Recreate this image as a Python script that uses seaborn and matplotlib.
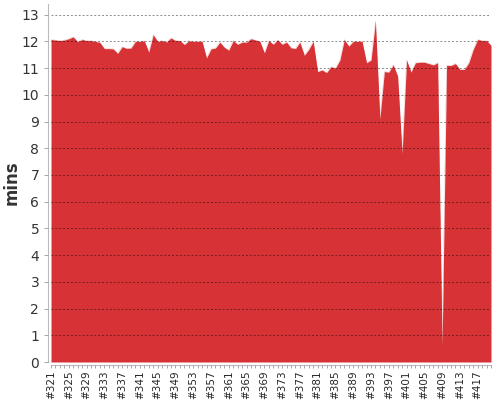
import seaborn as sns
import pandas as pd
import matplotlib.pyplot as plt
from matplotlib.ticker import MultipleLocator

# build numbers #321 .. #420
builds = ['#' + str(n) for n in range(321, 421)]
mins = [
    12.07, 12.05, 12.03, 12.05, 12.10, 12.17, 11.99, 12.07, 12.03, 12.03,
    12.00, 11.96, 11.73, 11.73, 11.72, 11.55, 11.80, 11.74, 11.75, 12.00,
    12.00, 12.02, 11.60, 12.25, 12.00, 12.03, 11.98, 12.13, 12.03, 12.03,
    11.88, 12.02, 12.00, 12.00, 12.00, 11.38, 11.72, 11.75, 11.97, 11.78,
    11.67, 12.03, 11.89, 11.97, 11.97, 12.10, 12.05, 12.00, 11.57, 12.03,
    11.89, 12.06, 11.89, 11.97, 11.76, 11.73, 11.97, 11.48, 11.70, 12.00,
    10.87, 10.93, 10.83, 11.05, 11.00, 11.30, 12.07, 11.82, 12.00, 12.00,
    12.00, 11.20, 11.30, 12.75, 9.10, 10.87, 10.85, 11.12, 10.70, 7.80,
    11.30, 10.85, 11.20, 11.22, 11.22, 11.17, 11.12, 11.20, 0.60, 11.10,
    11.10, 11.17, 10.95, 10.95, 11.20, 11.70, 12.07, 12.03, 12.03, 11.85,
]

df = pd.DataFrame({'build': range(len(builds)), 'mins': mins})
red = '#d73337'

sns.set_style('white')
fig = plt.figure(figsize=(5, 4), dpi=100)
ax = fig.add_axes([0.102, 0.095, 0.88, 0.895])

sns.lineplot(data=df, x='build', y='mins', color=red, linewidth=0.1, ax=ax)
ax.fill_between(df['build'], df['mins'], color=red, linewidth=0)

# offset spines first: moving a spine resets the ticks
sns.despine(ax=ax, offset=2)
for side in ['left', 'bottom']:
    ax.spines[side].set_color('#bbbbbb')
    ax.spines[side].set_linewidth(0.8)

ax.set_xlim(0, len(builds) - 1)
ax.set_ylim(0, 13.4)
ax.set_yticks(range(0, 14))
ax.set_xticks(range(0, len(builds), 4))
ax.set_xticklabels(builds[::4], rotation=90, fontsize=7.5)
ax.xaxis.set_minor_locator(MultipleLocator(1))
ax.tick_params(axis='x', which='both', bottom=True, length=2.5, width=0.6,
               color='#999999', pad=1.5)
ax.tick_params(axis='y', left=True, length=3, width=0.6, color='#999999',
               labelsize=10, labelcolor='#333333')

ax.set_axisbelow(False)
ax.yaxis.grid(True, linestyle=(0, (2, 2)), color='black', alpha=0.45, linewidth=0.7)
ax.xaxis.grid(False)

ax.set_xlabel('')
ax.set_ylabel('mins', fontsize=12, fontweight='bold', color='#333333')
ax.yaxis.set_label_coords(-0.068, 0.5)

fig.savefig('out.png', dpi=100)
